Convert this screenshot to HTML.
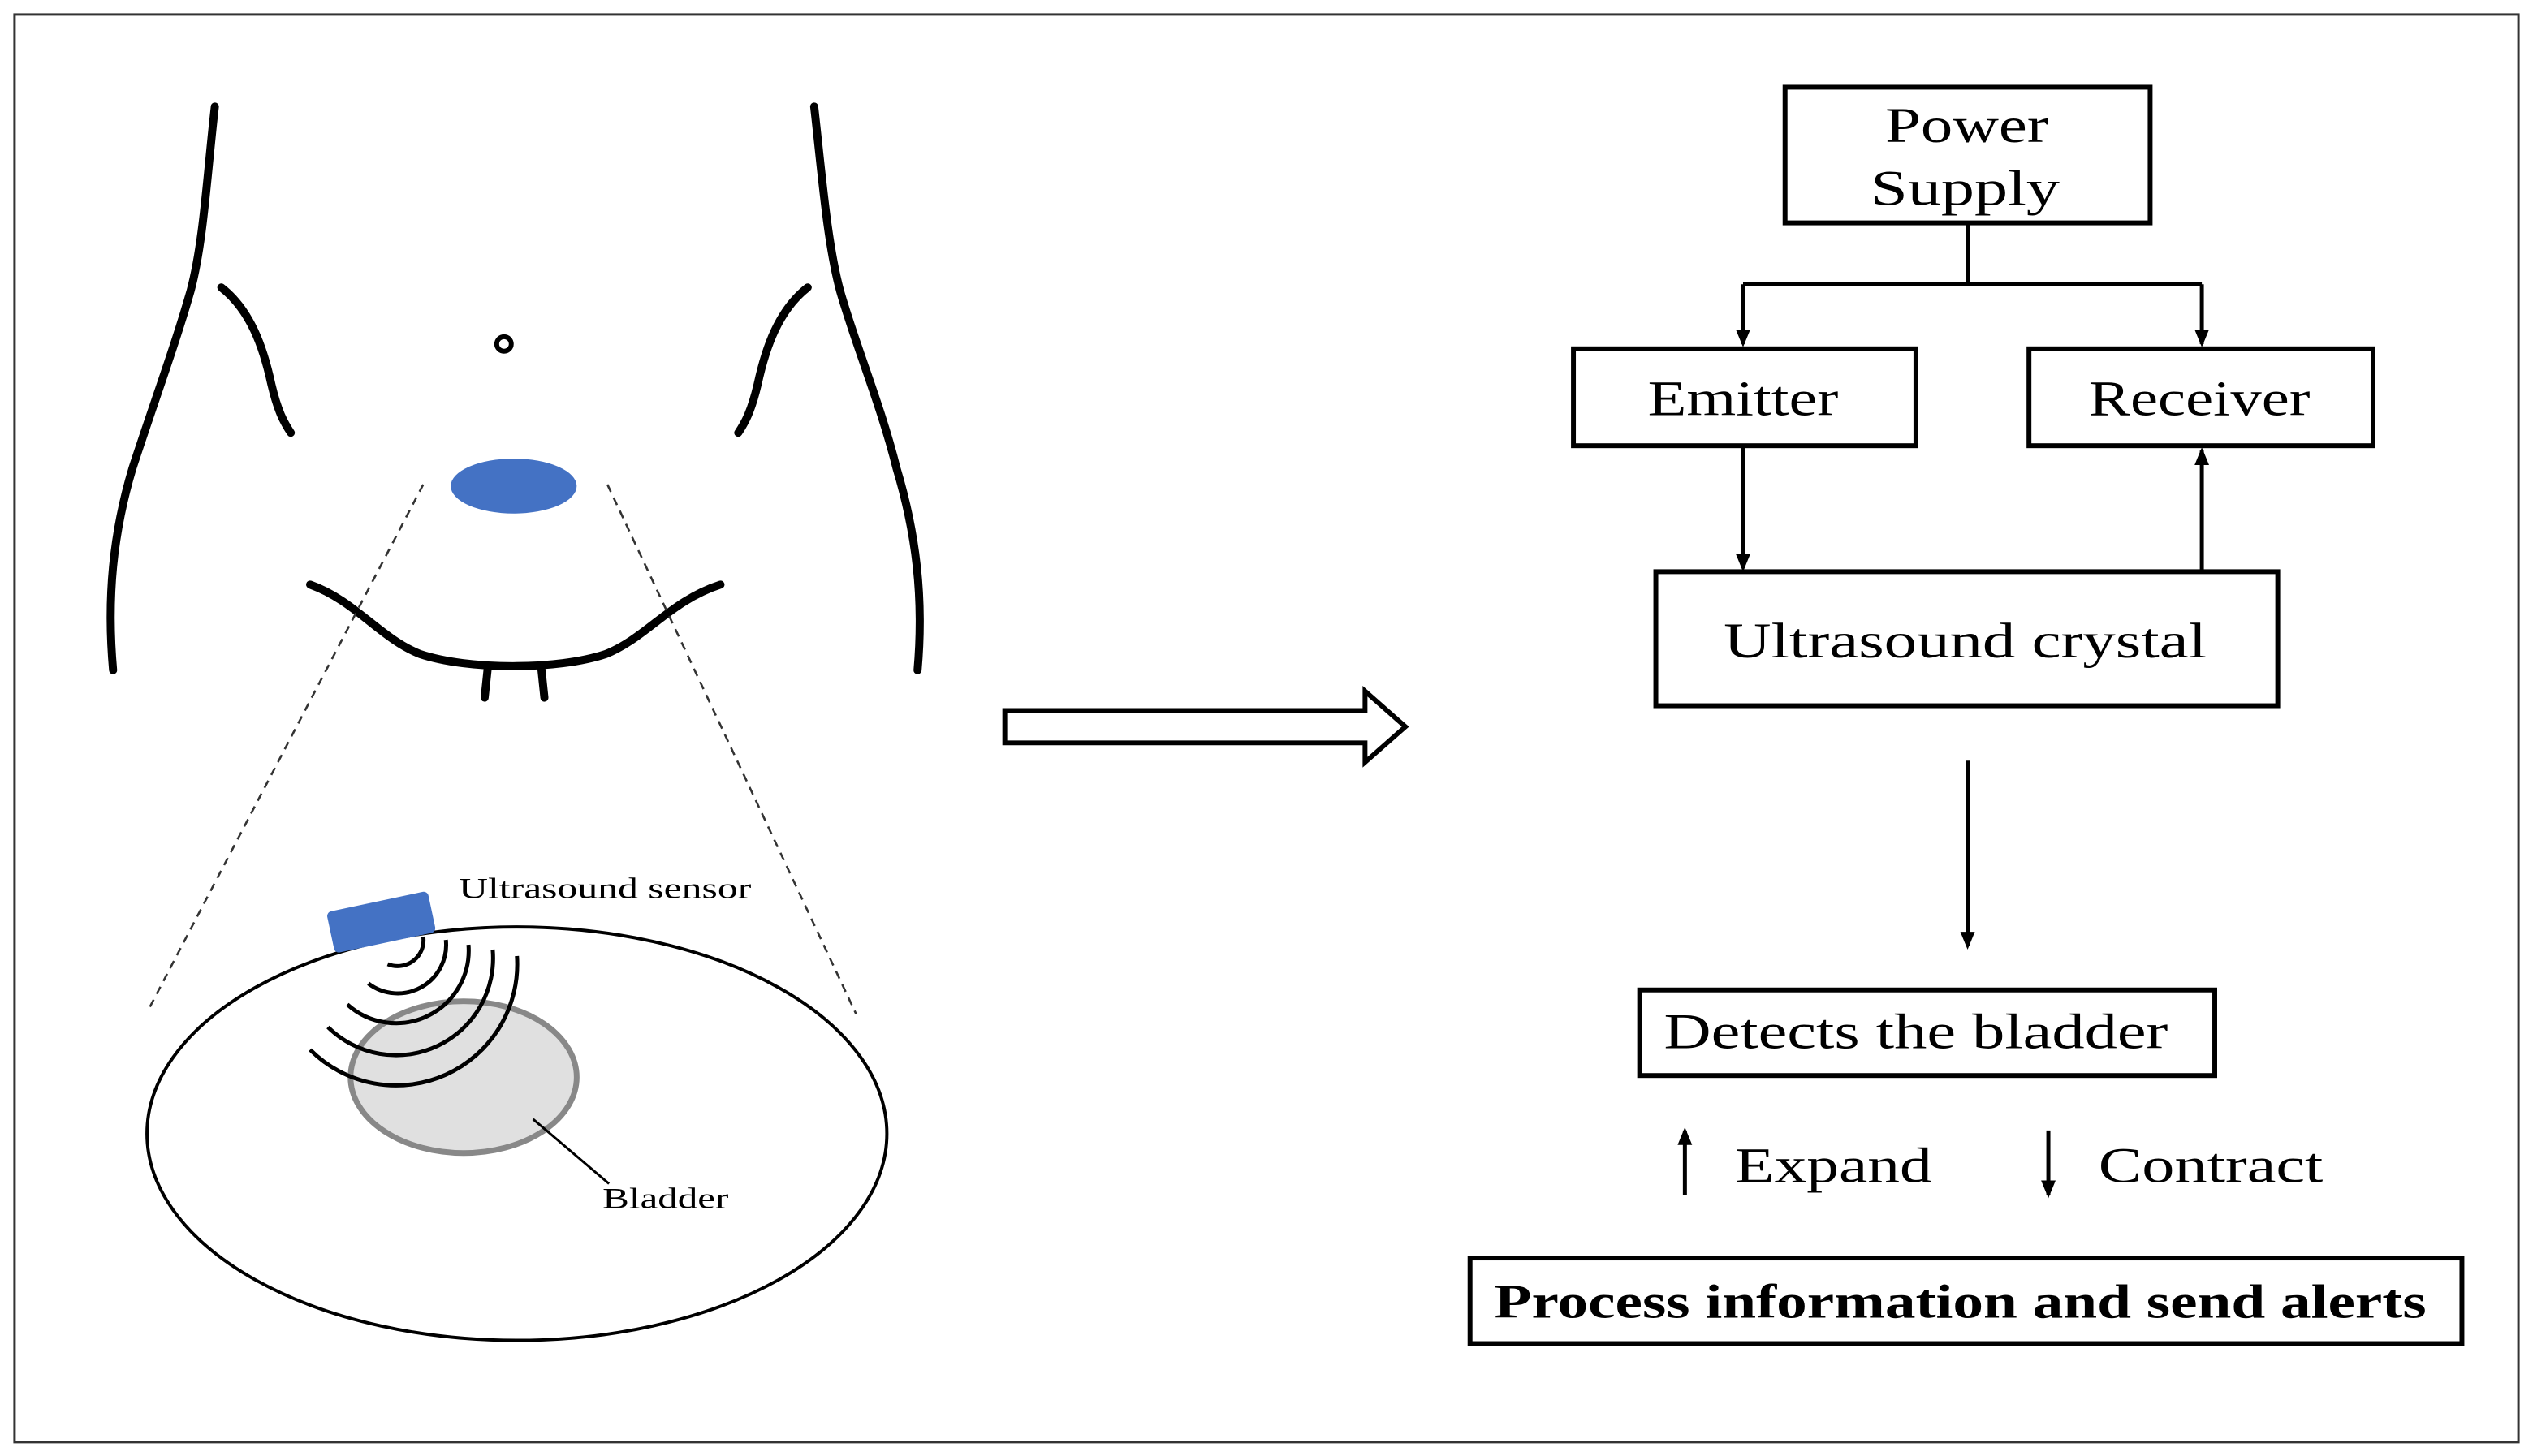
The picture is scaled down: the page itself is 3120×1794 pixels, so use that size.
<!DOCTYPE html>
<html><head><meta charset="utf-8"><style>
html,body{margin:0;padding:0;background:#fff;}
svg{display:block;}
text{font-family:"Liberation Serif",serif;fill:#000;}
</style></head><body>
<svg width="3120" height="1794" viewBox="0 0 1568 901.6" preserveAspectRatio="none" xmlns="http://www.w3.org/2000/svg">
<defs>
<marker id="ah" markerWidth="12" markerHeight="12" refX="9" refY="6" orient="auto" markerUnits="userSpaceOnUse">
<path d="M0,1.5 L11,6 L0,10.5 Z" fill="#000"/>
</marker>
</defs>
<rect x="0" y="0" width="1568" height="902" fill="#fff"/>
<rect x="9" y="9" width="1550" height="884" fill="none" stroke="#333" stroke-width="1.5"/>

<g fill="none" stroke="#000" stroke-width="5" stroke-linecap="round">
<path d="M133,66 C128,110 126,150 118,180 C108,215 95,250 82,290 C70,330 66,370 70,415"/>
<path d="M137,178 C155,192 163,215 168,238 C172,255 176,262 180,268"/>
<path d="M504,66 C509,110 512,150 520,180 C530,215 545,250 555,290 C567,330 572,370 568,415"/>
<path d="M500,178 C482,192 474,215 469,238 C465,255 461,262 457,268"/>
<path d="M192,362 C220,372 235,395 260,405 C290,415 345,415 375,405 C400,395 415,372 446,362"/>
<path d="M302,413 L300,432"/>
<path d="M335,413 L337,432"/>
</g>
<circle cx="312" cy="213" r="4.5" fill="none" stroke="#000" stroke-width="3"/>
<ellipse cx="318" cy="301" rx="39" ry="17" fill="#4472C4"/>
<line x1="262" y1="300" x2="92" y2="625" stroke="#333" stroke-width="1.3" stroke-dasharray="5,4"/>
<line x1="376" y1="300" x2="530" y2="628" stroke="#333" stroke-width="1.3" stroke-dasharray="5,4"/>

<ellipse cx="320" cy="702" rx="229" ry="128" fill="#fff" stroke="#000" stroke-width="2"/>
<ellipse cx="287" cy="667" rx="70" ry="47" fill="#e0e0e0" stroke="#888" stroke-width="3.5"/>
<g transform="translate(236,571) rotate(-12)">
<rect x="-32" y="-13" width="64" height="26" rx="3" fill="#4472C4"/>
</g>
<g fill="none" stroke="#000" stroke-width="2.5">
<path d="M262,580 A16,16 0 0 1 240,597"/>
<path d="M276,582 A30,30 0 0 1 228,609"/>
<path d="M290,585 A45,45 0 0 1 215,622"/>
<path d="M305,588 A60,60 0 0 1 203,636"/>
<path d="M320,592 A75,75 0 0 1 192,650"/>
</g>
<line x1="330" y1="693" x2="377" y2="733" stroke="#000" stroke-width="1.5"/>
<text x="284" y="556" font-size="18" textLength="181" lengthAdjust="spacingAndGlyphs">Ultrasound sensor</text>
<text x="373" y="748" font-size="18" textLength="78" lengthAdjust="spacingAndGlyphs">Bladder</text>

<path d="M622,440 L845,440 L845,428 L870,450 L845,472 L845,460 L622,460 Z" fill="#fff" stroke="#000" stroke-width="3"/>

<g fill="none" stroke="#000" stroke-width="3">
<rect x="1105" y="54" width="226" height="84"/>
<rect x="974" y="216" width="212" height="60"/>
<rect x="1256" y="216" width="213" height="60"/>
<rect x="1025" y="354" width="385" height="83"/>
<rect x="1015" y="613" width="356" height="53"/>
<rect x="910" y="779" width="614" height="53"/>
</g>
<g fill="none" stroke="#000" stroke-width="2.5">
<path d="M1218,138 L1218,176 M1079,176 L1363,176"/>
<line x1="1079" y1="176" x2="1079" y2="213" marker-end="url(#ah)"/>
<line x1="1363" y1="176" x2="1363" y2="213" marker-end="url(#ah)"/>
<line x1="1079" y1="276" x2="1079" y2="352" marker-end="url(#ah)"/>
<line x1="1363" y1="353" x2="1363" y2="279" marker-end="url(#ah)"/>
<line x1="1218" y1="471" x2="1218" y2="586" marker-end="url(#ah)"/>
<line x1="1043" y1="740" x2="1043" y2="700" marker-end="url(#ah)"/>
<line x1="1268" y1="700" x2="1268" y2="740" marker-end="url(#ah)"/>
</g>
<g font-size="31" lengthAdjust="spacingAndGlyphs">
<text x="1167" y="88" textLength="101" lengthAdjust="spacingAndGlyphs">Power</text>
<text x="1158" y="127" textLength="117" lengthAdjust="spacingAndGlyphs">Supply</text>
<text x="1020" y="257" textLength="118" lengthAdjust="spacingAndGlyphs">Emitter</text>
<text x="1293" y="257" textLength="137" lengthAdjust="spacingAndGlyphs">Receiver</text>
<text x="1067" y="407" textLength="299" lengthAdjust="spacingAndGlyphs">Ultrasound crystal</text>
<text x="1030" y="649" textLength="312" lengthAdjust="spacingAndGlyphs">Detects the bladder</text>
<text x="1074" y="732" textLength="122" lengthAdjust="spacingAndGlyphs">Expand</text>
<text x="1299" y="732" textLength="139" lengthAdjust="spacingAndGlyphs">Contract</text>
</g>
<text x="925" y="816" font-size="30" font-weight="bold" textLength="577" lengthAdjust="spacingAndGlyphs">Process information and send alerts</text>
</svg>
</body></html>
